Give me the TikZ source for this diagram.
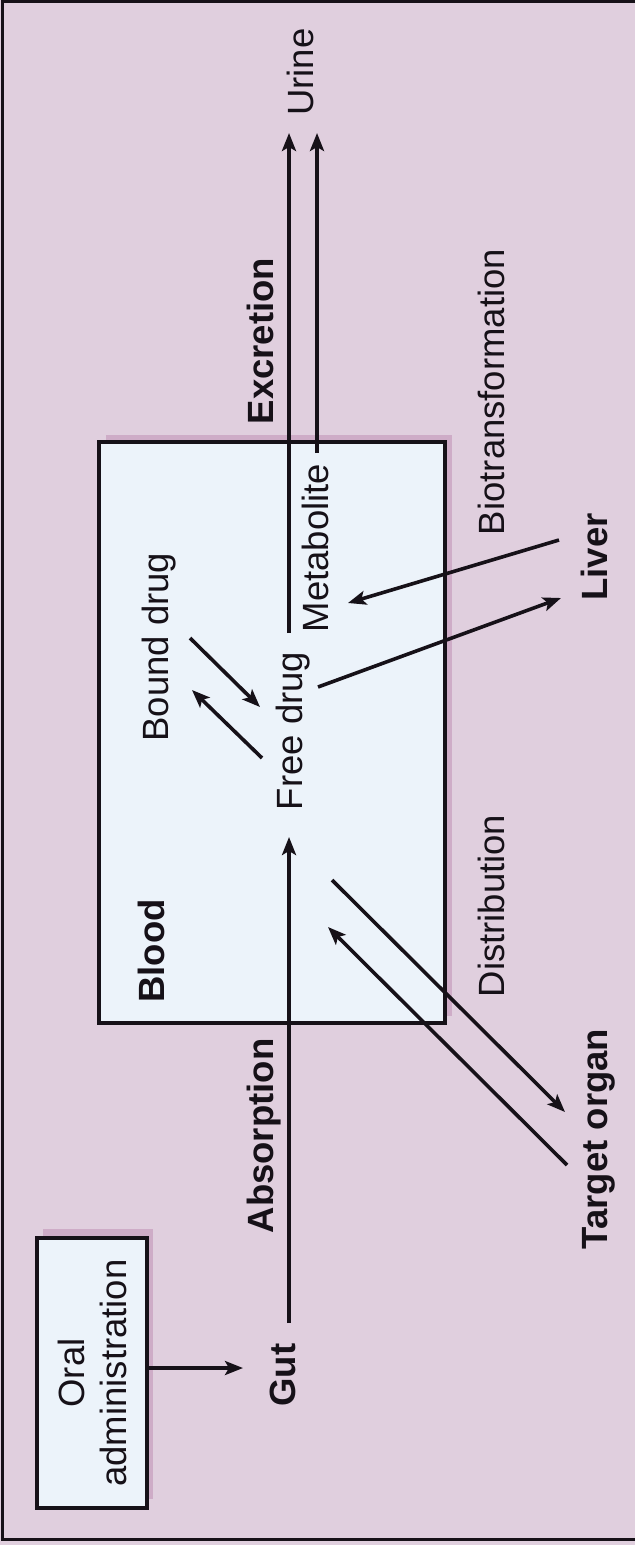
\documentclass[tikz,border=0pt]{standalone}
\usepackage{fontspec}
\setmainfont{Liberation Sans}
\usetikzlibrary{arrows.meta,calc}
\definecolor{bg}{RGB}{224,207,222}
\definecolor{boxfill}{RGB}{236,243,250}
\definecolor{shadowc}{RGB}{206,172,199}
\definecolor{ink}{RGB}{22,17,24}
\begin{document}
\begin{tikzpicture}[x=1pt,y=-1pt,
  lbl/.style={rotate=90, anchor=base, inner sep=0pt, text=ink, font=\fontsize{36.5}{42}\selectfont},
  blbl/.style={lbl, font=\fontsize{36.5}{42}\selectfont\bfseries},
  boxstyle/.style={draw=ink, line width=3.5pt, fill=boxfill, inner sep=0pt},
  ln/.style={draw=ink, line width=3.6pt},
  arr/.style={ln, -{Stealth[length=18pt,width=14pt,inset=4pt]}}]
\useasboundingbox (0,0) rectangle (635,1545);
\fill[bg] (0,0) rectangle (635,1545);
\draw[ink, line width=3pt] (635,1.5) -- (2,1.5) -- (2,1539) -- (635,1539);

% shadows
\fill[shadowc] (43,1229) rectangle (153,1499);
\fill[shadowc] (106,435) rectangle (452,1016);

% boxes
\node[boxstyle, rotate=90, minimum width=270pt, minimum height=110pt, align=center,
      text=ink, font=\fontsize{36.5}{42}\selectfont] (oral) at (92,1373) {Oral\\administration};
\node[boxstyle, minimum width=346pt, minimum height=581pt] (bloodbox) at (272,732.5) {};

% labels
\node[blbl] (gut) at (295,1375) {Gut};
\node[blbl] (absorption) at (273,1136) {Absorption};
\node[blbl] (blood) at (164,951) {Blood};
\node[lbl] (free) at (302,731) {Free drug};
\node[lbl] (bound) at (168,647) {Bound drug};
\node[lbl] (metab) at (328,548) {Metabolite};
\node[blbl] (excretion) at (273,341) {Excretion};
\node[lbl] (urine) at (313,72) {Urine};
\node[lbl] (biot) at (504,392) {Biotransformation};
\node[blbl] (liver) at (607,557) {Liver};
\node[lbl] (distrib) at (504,906) {Distribution};
\node[blbl] (target) at (607,1139) {Target organ};

% connector end points
\coordinate (gutin) at (243,1368);
\coordinate (absstart) at (289,1323);
\coordinate (freein) at (289,837);
\coordinate (freetop) at (289,633);
\coordinate (metatop) at (317,453);
\coordinate (urineA) at (289,133);
\coordinate (urineB) at (317,133);
\coordinate (fb1) at (262,758);
\coordinate (fb2) at (192,690);
\coordinate (bf1) at (190,638);
\coordinate (bf2) at (260,707);
\coordinate (fl1) at (318,687);
\coordinate (fl2) at (561,598);
\coordinate (lm1) at (559,540);
\coordinate (lm2) at (348,603);
\coordinate (ft1) at (332,880);
\coordinate (ft2) at (565,1112);
\coordinate (tf1) at (567,1165);
\coordinate (tf2) at (328,927);

% connectors
\draw[arr] (oral.south |- gutin) -- (gutin);
\draw[arr] (absstart) -- (freein);
\draw[arr] (freetop) -- (urineA);
\draw[arr] (metatop) -- (urineB);
\draw[arr] (fb1) -- (fb2);
\draw[arr] (bf1) -- (bf2);
\draw[arr] (fl1) -- (fl2);
\draw[arr] (lm1) -- (lm2);
\draw[arr] (ft1) -- (ft2);
\draw[arr] (tf1) -- (tf2);
\end{tikzpicture}
\end{document}
